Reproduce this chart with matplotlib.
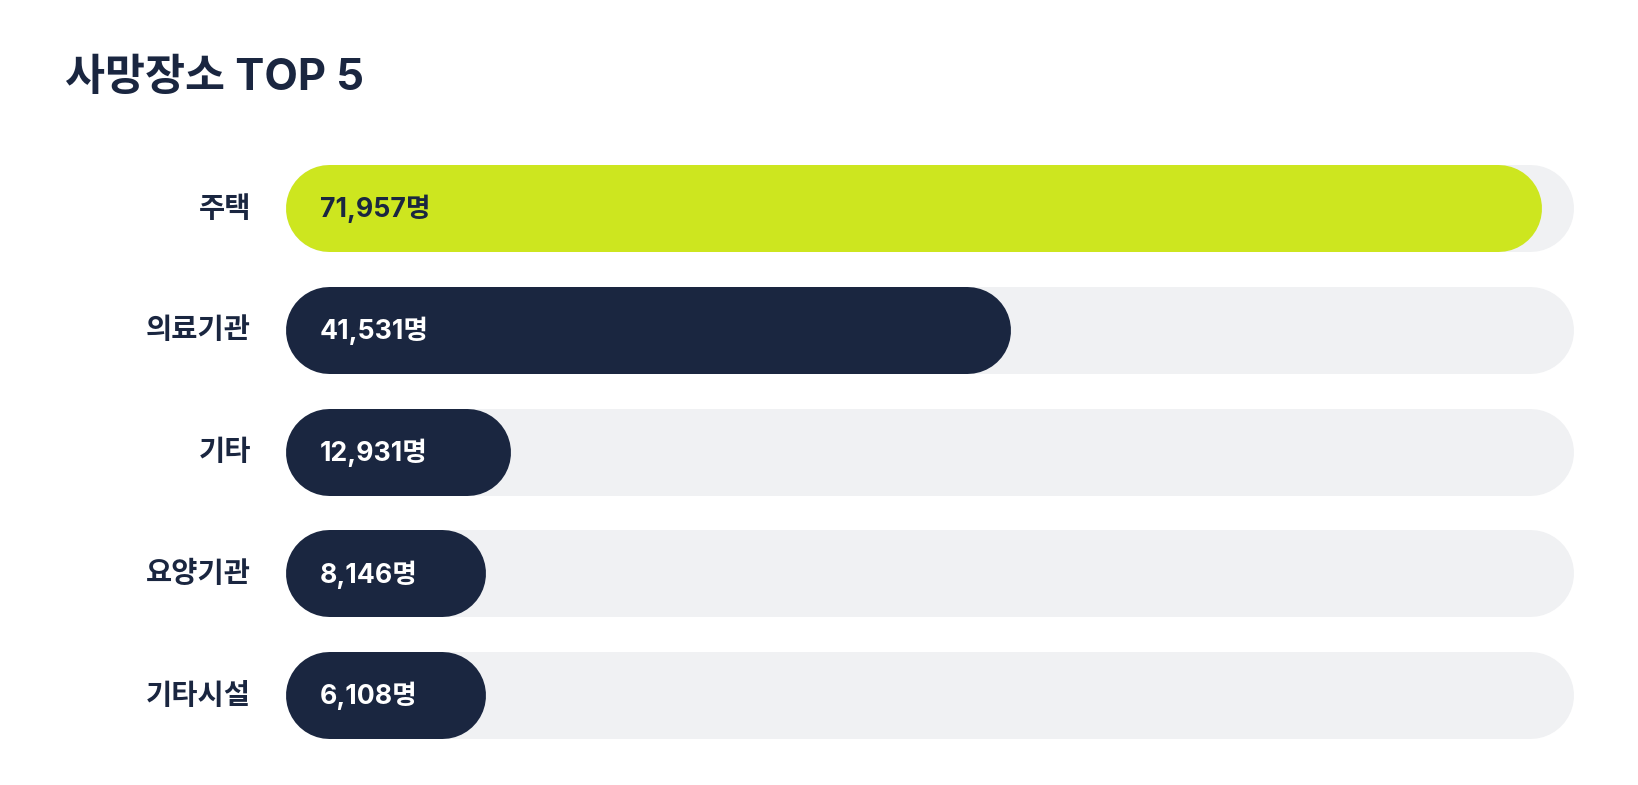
import matplotlib
matplotlib.use("Agg")
import matplotlib.pyplot as plt
import matplotlib.transforms as mtransforms

FONTS = ['Inter', 'Noto Sans CJK KR', 'DejaVu Sans']
plt.rcParams['font.family'] = FONTS

# ---- data ----
title = "사망장소 TOP 5"
categories = ["주택", "의료기관", "기타", "요양기관", "기타시설"]
values = [71957, 41531, 12931, 8146, 6108]
unit = "명"

# ---- style ----
GREEN = "#CDE61F"
NAVY = "#1A2640"
TRACK = "#F0F1F3"
TEXT = "#1A2640"

W, H, DPI = 16.38, 7.85, 100
fig = plt.figure(figsize=(W, H), dpi=DPI)
fig.patch.set_facecolor("white")

track_px = 1289.0
left_px = 285.0
row_px = 121.75
top_row_center = 208.0
n = len(categories)
ax_top_px = top_row_center - row_px / 2
ax_h_px = row_px * n
ax = fig.add_axes([left_px / 1638, (785 - ax_top_px - ax_h_px) / 785,
                   track_px / 1638, ax_h_px / 785])
ax.set_axis_off()

track_max = 73800.0
ax.set_xlim(0, track_max)
ax.set_ylim(n - 0.5, -0.5)

bar_px = 87.0
lw_pt = bar_px * 72.0 / DPI
x_per_px = track_max / track_px
r_x = (bar_px / 2) * x_per_px
min_w = 200.0 * x_per_px


def rounded_bar(width, y, color, z):
    ax.plot([r_x, width - r_x], [y, y], color=color, lw=lw_pt,
            solid_capstyle="round", zorder=z)


trans_lbl = mtransforms.blended_transform_factory(ax.transAxes, ax.transData)
for i, (cat, v) in enumerate(zip(categories, values)):
    rounded_bar(track_max, i, TRACK, 1)
    w = max(v, min_w)
    color = GREEN if i == 0 else NAVY
    rounded_bar(w, i, color, 2)
    ax.text(-34 / track_px, i + 0.01, cat, transform=trans_lbl, ha="right",
            va="center", fontsize=20.5, fontweight="semibold", color=TEXT)
    ax.text(35 / track_px, i + 0.01, f"{v:,}{unit}", transform=trans_lbl,
            ha="left", va="center", fontsize=19.2, fontweight="bold",
            color=(TEXT if i == 0 else "white"), zorder=3)

fig.text(65 / 1638, 1 - 79 / 785, title, ha="left", va="center",
         fontsize=31.3, fontweight="bold", color=TEXT)

fig.savefig("out.png", dpi=DPI, facecolor="white")
